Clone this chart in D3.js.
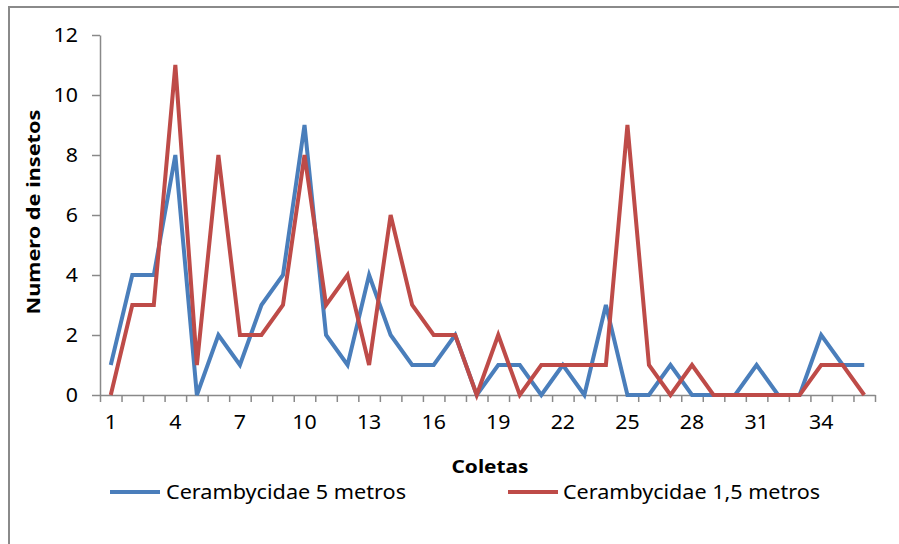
<!DOCTYPE html>
<html>
<head>
<meta charset="utf-8">
<script src="https://cdn.jsdelivr.net/npm/d3@7"></script>
<style>
  html, body { margin: 0; padding: 0; background: #fff; }
  svg { display: block; }
  text { font-family: "Noto Sans", "Open Sans", sans-serif; fill: #000; }
</style>
</head>
<body>
<svg id="chart" width="899" height="544"></svg>
<script>
// Coletas 1..36
const coletas = d3.range(1, 37);
// Cerambycidae captured in traps at 5 m
const cerambycidae5m = [1,4,4,8,0,2,1,3,4,9,2,1,4,2,1,1,2,0,1,1,0,1,0,3,0,0,1,0,0,0,1,0,0,2,1,1];
// Cerambycidae captured in traps at 1,5 m
const cerambycidae15m = [0,3,3,11,1,8,2,2,3,8,3,4,1,6,3,2,2,0,2,0,1,1,1,1,9,1,0,1,0,0,0,0,0,1,1,0];
const seriesNames = ["Cerambycidae 5 metros", "Cerambycidae 1,5 metros"];
const seriesColors = ["#4a7ebb", "#be4b48"];
const yTicks = [0, 2, 4, 6, 8, 10, 12];
const xLabelTicks = [1, 4, 7, 10, 13, 16, 19, 22, 25, 28, 31, 34];

const svg = d3.select("#chart");
const axisColor = "#898989";

// outer frame (top and left edges)
svg.append("path")
  .attr("d", "M9,899 L9,7 L899,7")
  .attr("fill", "none").attr("stroke", "#8a8a8a").attr("stroke-width", 2);

const plotLeft = 100, plotRight = 875, plotTop = 35, plotBottom = 395;

const x = d3.scaleBand().domain(coletas).range([plotLeft, plotRight]).paddingInner(0).paddingOuter(0);
const xEdge = d3.scaleLinear().domain([0, coletas.length]).range([plotLeft, plotRight]);
const y = d3.scaleLinear().domain([0, 12]).range([plotBottom, plotTop]);

// tick label styling: slightly wide digits
function styleTickText(sel) {
  sel.attr("font-size", 19)
    .attr("font-family", "Noto Sans, sans-serif")
    .attr("fill", "#111")
    .attr("lengthAdjust", "spacingAndGlyphs")
    .attr("textLength", function () { return this.textContent.length * 12.2; });
}

// y axis
const yAxis = svg.append("g").attr("transform", `translate(${plotLeft},0)`)
  .call(d3.axisLeft(y).tickValues(yTicks).tickSize(8).tickPadding(14).tickSizeOuter(0));
yAxis.selectAll("path, line").attr("stroke", axisColor).attr("stroke-width", 1.5);
yAxis.selectAll("text").call(styleTickText);

// x axis: ticks at category boundaries
const xAxisTicks = svg.append("g").attr("transform", `translate(0,${plotBottom})`)
  .call(d3.axisBottom(xEdge).tickValues(d3.range(0, coletas.length + 1)).tickSize(7).tickFormat("").tickSizeOuter(0));
xAxisTicks.selectAll("path, line").attr("stroke", axisColor).attr("stroke-width", 1.5);

// x axis labels at category centres
const xAxisLabels = svg.append("g").attr("transform", `translate(0,${plotBottom})`)
  .call(d3.axisBottom(x).tickValues(xLabelTicks).tickSize(0).tickPadding(21));
xAxisLabels.select("path").remove();
xAxisLabels.selectAll("text").call(styleTickText);

// lines
const line = d3.line()
  .x((d, i) => x(coletas[i]) + x.bandwidth() / 2)
  .y(d => y(d));

[cerambycidae5m, cerambycidae15m].forEach((vals, k) => {
  svg.append("path")
    .datum(vals)
    .attr("fill", "none")
    .attr("stroke", seriesColors[k])
    .attr("stroke-width", 4)
    .attr("stroke-linejoin", "miter")
    .attr("d", line);
});

// axis titles
svg.append("text")
  .attr("transform", "translate(40,212) rotate(-90)")
  .attr("text-anchor", "middle")
  .attr("font-weight", "bold").attr("font-size", 18)
  .attr("textLength", 205).attr("lengthAdjust", "spacingAndGlyphs")
  .text("Numero de insetos");

svg.append("text")
  .attr("x", 490).attr("y", 473)
  .attr("text-anchor", "middle")
  .attr("font-weight", "bold").attr("font-size", 18)
  .attr("textLength", 77).attr("lengthAdjust", "spacingAndGlyphs")
  .text("Coletas");

// legend
const legendItems = [
  { x0: 110, tx: 166, w: 240 },
  { x0: 508, tx: 563, w: 257 }
];
legendItems.forEach((it, k) => {
  svg.append("line")
    .attr("x1", it.x0).attr("x2", it.x0 + 50)
    .attr("y1", 492).attr("y2", 492)
    .attr("stroke", seriesColors[k]).attr("stroke-width", 4);
  svg.append("text")
    .attr("x", it.tx).attr("y", 499)
    .attr("font-size", 19)
    .attr("textLength", it.w).attr("lengthAdjust", "spacingAndGlyphs")
    .text(seriesNames[k]);
});
</script>
</body>
</html>
